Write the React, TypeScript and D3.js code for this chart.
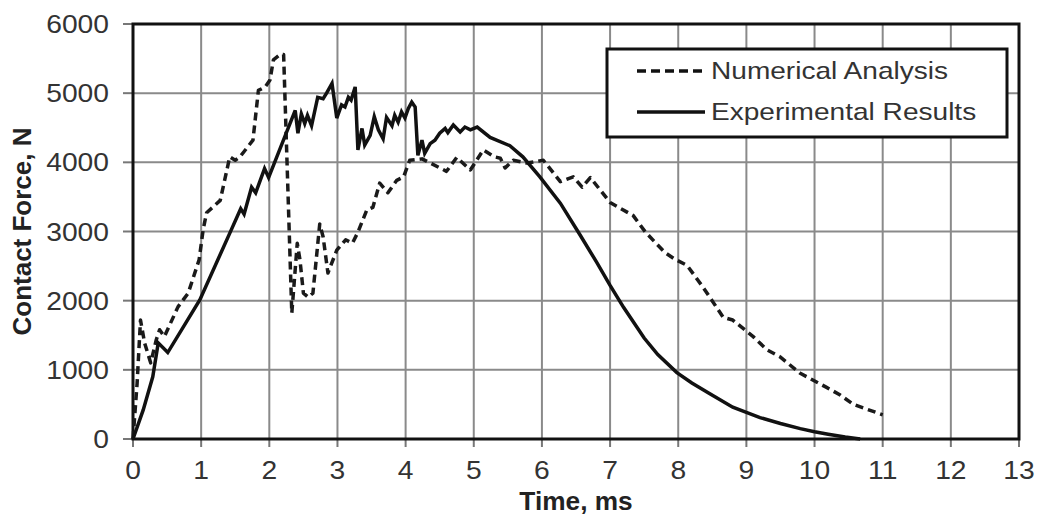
import { useEffect, useRef } from 'react'
import * as d3 from 'd3'

// Numerical Analysis (dashed)
const numTime = [0, 0.06, 0.11, 0.17, 0.26, 0.34, 0.39, 0.46, 0.66, 0.81, 0.97, 1.03, 1.08, 1.28, 1.42, 1.5, 1.57, 1.76, 1.84, 1.94, 2.01, 2.06, 2.16, 2.21, 2.33, 2.41, 2.45, 2.5, 2.57, 2.64, 2.74, 2.79, 2.86, 2.99, 3.12, 3.22, 3.3, 3.43, 3.52, 3.62, 3.74, 3.87, 3.97, 4.06, 4.24, 4.36, 4.6, 4.75, 4.95, 5.14, 5.3, 5.39, 5.46, 5.58, 5.78, 6.02, 6.27, 6.46, 6.59, 6.71, 7.0, 7.34, 7.52, 7.8, 7.95, 8.13, 8.36, 8.66, 8.8, 9.1, 9.3, 9.49, 9.79, 10.17, 10.37, 10.57, 11.0]
const numForce = [0, 800, 1720, 1390, 1100, 1430, 1580, 1480, 1910, 2110, 2590, 3030, 3270, 3450, 4080, 4030, 4080, 4320, 5040, 5090, 5190, 5480, 5560, 5560, 1820, 2830, 2590, 2110, 2050, 2110, 3110, 2920, 2400, 2730, 2880, 2830, 2990, 3310, 3350, 3700, 3560, 3740, 3790, 4030, 4050, 3990, 3870, 4070, 3890, 4180, 4080, 4060, 3920, 4030, 3990, 4030, 3720, 3790, 3640, 3780, 3420, 3230, 2990, 2700, 2600, 2510, 2200, 1760, 1720, 1480, 1290, 1190, 950, 750, 640, 500, 350]

// Experimental Results (solid)
const expTime = [0, 0.15, 0.29, 0.37, 0.51, 0.98, 1.44, 1.58, 1.63, 1.74, 1.8, 1.93, 1.99, 2.38, 2.42, 2.47, 2.52, 2.56, 2.62, 2.71, 2.79, 2.84, 2.92, 2.99, 3.06, 3.11, 3.16, 3.2, 3.26, 3.3, 3.36, 3.4, 3.48, 3.54, 3.6, 3.67, 3.72, 3.8, 3.84, 3.89, 3.94, 3.99, 4.04, 4.09, 4.14, 4.18, 4.24, 4.28, 4.36, 4.43, 4.5, 4.58, 4.62, 4.7, 4.8, 4.87, 4.95, 5.05, 5.24, 5.53, 5.72, 5.97, 6.27, 6.56, 6.8, 7.0, 7.2, 7.5, 7.7, 7.98, 8.2, 8.47, 8.8, 9.2, 9.5, 9.79, 10.0, 10.2, 10.45, 10.67]
const expForce = [0, 420, 900, 1390, 1250, 2010, 3020, 3330, 3250, 3640, 3560, 3910, 3780, 4750, 4420, 4700, 4560, 4680, 4530, 4940, 4920, 5000, 5140, 4640, 4830, 4800, 4940, 4900, 5090, 4180, 4490, 4250, 4390, 4660, 4470, 4340, 4650, 4530, 4680, 4580, 4730, 4640, 4780, 4870, 4800, 4100, 4320, 4130, 4270, 4320, 4420, 4490, 4430, 4540, 4440, 4510, 4470, 4510, 4360, 4240, 4080, 3790, 3410, 2950, 2560, 2220, 1900, 1460, 1220, 960, 810, 650, 460, 310, 225, 150, 105, 70, 30, 0]

const xTicks = [0, 1, 2, 3, 4, 5, 6, 7, 8, 9, 10, 11, 12, 13]
const yTicks = [0, 1000, 2000, 3000, 4000, 5000, 6000]
const legendLabels = ['Numerical Analysis', 'Experimental Results']

export default function App() {
  const canvas = useRef<SVGSVGElement | null>(null)

  useEffect(() => {
    const width = 1037
    const height = 518
    const margin = { top: 24, right: 18, bottom: 79, left: 133 }
    const font = '"Liberation Sans", Arial, sans-serif'
    const sx = 1.13

    const svg = d3.select(canvas.current)
    svg.selectAll('*').remove()

    const x = d3.scaleLinear().domain([0, 13]).range([margin.left, width - margin.right])
    const y = d3.scaleLinear().domain([0, 6000]).range([height - margin.bottom, margin.top])

    // grid
    svg.append('g')
      .selectAll('line')
      .data(xTicks.slice(1, -1))
      .join('line')
      .attr('x1', d => x(d)).attr('x2', d => x(d))
      .attr('y1', y(0)).attr('y2', y(6000))
      .attr('stroke', '#8a8a8a').attr('stroke-width', 2)
    svg.append('g')
      .selectAll('line')
      .data(yTicks.slice(1, -1))
      .join('line')
      .attr('x1', x(0)).attr('x2', x(13))
      .attr('y1', d => y(d)).attr('y2', d => y(d))
      .attr('stroke', '#8a8a8a').attr('stroke-width', 2)

    // tick marks
    svg.append('g')
      .selectAll('line')
      .data(xTicks)
      .join('line')
      .attr('x1', d => x(d)).attr('x2', d => x(d))
      .attr('y1', y(0)).attr('y2', y(0) + 8)
      .attr('stroke', '#777').attr('stroke-width', 2)
    svg.append('g')
      .selectAll('line')
      .data(yTicks)
      .join('line')
      .attr('x1', x(0) - 10).attr('x2', x(0))
      .attr('y1', d => y(d)).attr('y2', d => y(d))
      .attr('stroke', '#777').attr('stroke-width', 2)

    // frame
    svg.append('rect')
      .attr('x', x(0)).attr('y', y(6000))
      .attr('width', x(13) - x(0)).attr('height', y(0) - y(6000))
      .attr('fill', 'none').attr('stroke', '#111').attr('stroke-width', 3)

    // tick labels
    svg.append('g')
      .selectAll('text')
      .data(xTicks)
      .join('text')
      .attr('transform', d => `translate(${x(d)},${y(0) + 40}) scale(${sx},1)`)
      .attr('text-anchor', 'middle')
      .attr('font-family', font).attr('font-size', 25).attr('fill', '#333')
      .text(d => d)
    svg.append('g')
      .selectAll('text')
      .data(yTicks)
      .join('text')
      .attr('transform', d => `translate(109,${y(d) + 9}) scale(${sx},1)`)
      .attr('text-anchor', 'end')
      .attr('font-family', font).attr('font-size', 25).attr('fill', '#333')
      .text(d => d)

    // axis titles
    svg.append('text')
      .attr('transform', `translate(${(x(0) + x(13)) / 2},510) scale(1.05,1)`)
      .attr('text-anchor', 'middle')
      .attr('font-family', font).attr('font-size', 25).attr('font-weight', 'bold').attr('fill', '#222')
      .text('Time, ms')
    svg.append('text')
      .attr('transform', `translate(31,${(y(0) + y(6000)) / 2}) rotate(-90)`)
      .attr('text-anchor', 'middle')
      .attr('font-family', font).attr('font-size', 26).attr('font-weight', 'bold').attr('fill', '#222')
      .text('Contact Force, N')

    // curves
    svg.append('path')
      .attr('d', d3.line<number>().x((d, i) => x(numTime[i])).y(d => y(d))(numForce))
      .attr('fill', 'none').attr('stroke', '#1a1a1a').attr('stroke-width', 3.5)
      .attr('stroke-dasharray', '8,5')
      .attr('stroke-linejoin', 'round')

    svg.append('path')
      .attr('d', d3.line<number>().x((d, i) => x(expTime[i])).y(d => y(d))(expForce))
      .attr('fill', 'none').attr('stroke', '#111').attr('stroke-width', 3.5)
      .attr('stroke-linejoin', 'miter')

    // legend
    const lg = svg.append('g')
    lg.append('rect')
      .attr('x', 607).attr('y', 49).attr('width', 400).attr('height', 88)
      .attr('fill', '#fff').attr('stroke', '#111').attr('stroke-width', 3)
    legendLabels.forEach((label, i) => {
      const ly = 71 + i * 41
      lg.append('line')
        .attr('x1', 637).attr('x2', 705).attr('y1', ly).attr('y2', ly)
        .attr('stroke', '#111').attr('stroke-width', 3.5)
        .attr('stroke-dasharray', i === 0 ? '9,5' : null)
      lg.append('text')
        .attr('transform', `translate(711,${ly + 8}) scale(1.17,1)`)
        .attr('font-family', font).attr('font-size', 24).attr('fill', '#333')
        .text(label)
    })
  }, [])

  return (
    <div style={{ position: 'absolute', left: 0, top: 0 }}>
      <svg ref={canvas} width={1037} height={518} style={{ display: 'block', background: '#fff' }}></svg>
    </div>
  )
}
